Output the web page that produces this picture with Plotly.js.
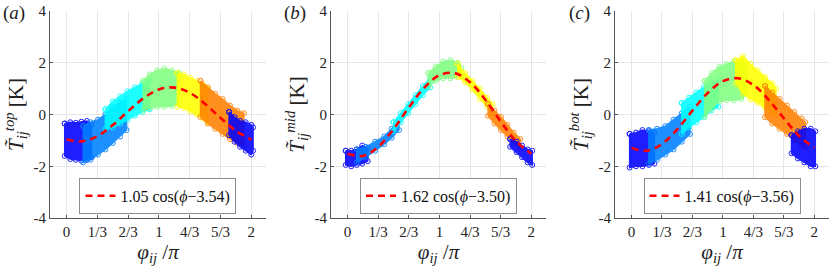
<!DOCTYPE html>
<html>
<head>
<meta charset="utf-8">
<script src="https://cdn.plot.ly/plotly-3.0.1.min.js"></script>
<style>html,body{margin:0;padding:0;background:#fff;}#chart{width:830px;height:269px;}</style>
</head>
<body>
<div id="chart"></div>
<script>
// ---- data ----
const tickVals = [0, 1/3, 2/3, 1, 4/3, 5/3, 2];
const tickText = ['0', '1/3', '2/3', '1', '4/3', '5/3', '2'];
const yTickVals = [4, 2, 0, -2, -4];
const yTickText = ['4', '2', '0', '-2', '-4'];

// fitted dashed curves sampled along phi/pi
const fitX = [0, 1/6, 2/6, 3/6, 4/6, 5/6, 1, 7/6, 8/6, 9/6, 10/6, 11/6, 2];
const fitTop = [-0.97, -1.04, -0.84, -0.41, 0.13, 0.63, 0.97, 1.04, 0.84, 0.41, -0.13, -0.63, -0.97];
const fitMid = [-1.52, -1.60, -1.25, -0.57, 0.27, 1.03, 1.52, 1.60, 1.25, 0.57, -0.27, -1.03, -1.52];
const fitBot = [-1.29, -1.40, -1.14, -0.57, 0.15, 0.83, 1.29, 1.40, 1.14, 0.57, -0.15, -0.83, -1.29];
const fitLabels = ['1.05 cos(<i>ϕ</i>−3.54)', '1.62 cos(<i>ϕ</i>−3.50)', '1.41 cos(<i>ϕ</i>−3.56)'];

// point-cloud envelopes per colour group (x, upper edge, lower edge)
const topSegX = [
  [-0.02, 0.04, 0.1, 0.16, 0.22, 0.27],
  [0.18, 0.26, 0.34, 0.42, 0.5, 0.58, 0.65],
  [0.42, 0.5, 0.58, 0.66, 0.74, 0.82, 0.9],
  [0.83, 0.9, 0.98, 1.06, 1.14, 1.22],
  [1.2, 1.27, 1.34, 1.41, 1.48, 1.53],
  [1.45, 1.53, 1.61, 1.69, 1.77, 1.85, 1.92],
  [1.76, 1.82, 1.88, 1.94, 2.0, 2.02]
];
const topSegUp = [
  [-0.35, -0.3, -0.32, -0.28, -0.25, -0.4],
  [-0.45, -0.3, -0.2, 0.0, 0.3, 0.45, 0.6],
  [0.2, 0.5, 0.7, 0.9, 1.05, 1.2, 1.3],
  [1.3, 1.55, 1.7, 1.78, 1.7, 1.6],
  [1.6, 1.55, 1.42, 1.3, 1.15, 1.0],
  [1.3, 1.05, 0.8, 0.6, 0.35, 0.15, 0.05],
  [0.1, -0.1, -0.25, -0.3, -0.4, -0.5]
];
const topSegLo = [
  [-1.6, -1.72, -1.75, -1.78, -1.75, -1.65],
  [-1.85, -1.75, -1.55, -1.35, -1.1, -0.85, -0.6],
  [-0.55, -0.5, -0.35, -0.2, -0.05, 0.1, 0.2],
  [0.15, 0.25, 0.3, 0.3, 0.33, 0.4],
  [0.3, 0.25, 0.12, 0.0, -0.15, -0.3],
  [-0.1, -0.35, -0.55, -0.75, -0.95, -1.1, -1.2],
  [-0.8, -1.05, -1.25, -1.4, -1.55, -1.4]
];

const midSegX = [
  [-0.02, 0.04, 0.1, 0.16, 0.22],
  [0.1, 0.2, 0.3, 0.4, 0.48, 0.56],
  [0.5, 0.58, 0.66, 0.74, 0.82, 0.9],
  [0.88, 0.96, 1.04, 1.12, 1.2, 1.24],
  [1.2, 1.28, 1.36, 1.44, 1.52, 1.58],
  [1.53, 1.6, 1.67, 1.74, 1.81, 1.88],
  [1.77, 1.84, 1.9, 1.96, 2.01]
];
const midSegUp = [
  [-1.4, -1.4, -1.35, -1.2, -1.3],
  [-1.35, -1.25, -1.05, -0.85, -0.55, -0.25],
  [-0.3, 0.05, 0.4, 0.75, 1.1, 1.4],
  [1.6, 1.85, 2.05, 2.1, 2.0, 1.8],
  [1.95, 1.6, 1.3, 1.0, 0.65, 0.4],
  [0.4, 0.15, -0.1, -0.4, -0.7, -0.95],
  [-0.95, -1.05, -1.2, -1.35, -1.4]
];
const midSegLo = [
  [-1.95, -2.0, -1.95, -1.9, -1.8],
  [-1.85, -1.65, -1.4, -1.15, -0.9, -0.6],
  [-0.65, -0.3, 0.05, 0.4, 0.75, 1.05],
  [1.1, 1.3, 1.4, 1.4, 1.45, 1.5],
  [1.45, 1.25, 0.95, 0.6, 0.3, 0.05],
  [-0.05, -0.35, -0.6, -0.85, -1.1, -1.3],
  [-1.25, -1.45, -1.65, -1.85, -1.95]
];

const botSegX = [
  [-0.02, 0.05, 0.12, 0.19, 0.25],
  [0.19, 0.28, 0.37, 0.46, 0.55, 0.64],
  [0.55, 0.63, 0.71, 0.79, 0.87, 0.95],
  [0.8, 0.88, 0.96, 1.04, 1.12, 1.2, 1.26],
  [1.14, 1.22, 1.3, 1.38, 1.46, 1.54, 1.58],
  [1.46, 1.54, 1.62, 1.7, 1.78, 1.86, 1.9],
  [1.75, 1.82, 1.89, 1.96, 2.01]
];
const botSegUp = [
  [-0.75, -0.7, -0.6, -0.65, -0.7],
  [-0.6, -0.55, -0.45, -0.2, 0.05, 0.3],
  [0.45, 0.65, 0.85, 1.05, 1.25, 1.35],
  [1.3, 1.6, 1.85, 1.95, 2.05, 2.05, 1.95],
  [2.1, 2.25, 1.95, 1.7, 1.45, 1.2, 1.0],
  [1.1, 0.85, 0.6, 0.35, 0.1, -0.15, -0.3],
  [-0.8, -0.65, -0.55, -0.55, -0.65]
];
const botSegLo = [
  [-2.05, -2.0, -2.0, -1.95, -1.9],
  [-1.9, -1.75, -1.55, -1.35, -1.05, -0.75],
  [-0.75, -0.5, -0.3, -0.1, 0.15, 0.3],
  [-0.1, 0.25, 0.5, 0.55, 0.55, 0.6, 0.8],
  [1.2, 0.8, 0.6, 0.45, 0.25, 0.05, -0.05],
  [-0.1, -0.35, -0.55, -0.75, -1.0, -1.2, -1.3],
  [-1.5, -1.7, -1.85, -2.0, -2.0]
];

const yTitles = ['top', 'mid', 'bot'];
const panelLabels = ['a', 'b', 'c'];

// ---- styles ----
const segColors = ['#0000ff', '#0080ff', '#00ffff', '#80ff80', '#ffff00', '#ff8000', '#0000ff'];
const serif = '"Liberation Serif", "Times New Roman", Times, serif';
const domainsX = [[0.0602, 0.3205], [0.3988, 0.6578], [0.741, 0.9988]];
const domainY = [0.1896, 0.9591];

const panels = [
  {sx: topSegX, su: topSegUp, sl: topSegLo, fit: fitTop},
  {sx: midSegX, su: midSegUp, sl: midSegLo, fit: fitMid},
  {sx: botSegX, su: botSegUp, sl: botSegLo, fit: fitBot}
];

const traces = [];
const layout = {
  width: 830, height: 269,
  margin: {l: 0, r: 0, t: 0, b: 0},
  paper_bgcolor: '#fff', plot_bgcolor: '#fff',
  font: {family: serif, size: 14, color: '#222'},
  showlegend: true,
  annotations: []
};

panels.forEach((p, i) => {
  const sfx = i === 0 ? '' : String(i + 1);
  const xa = 'x' + sfx, ya = 'y' + sfx;
  p.sx.forEach((xs, k) => {
    const up = p.su[k], lo = p.sl[k];
    const px = xs.concat(xs.slice().reverse(), [xs[0]]);
    const py = up.concat(lo.slice().reverse(), [up[0]]);
    traces.push({
      x: px, y: py, xaxis: xa, yaxis: ya, type: 'scatter',
      mode: 'lines+markers', fill: 'toself',
      fillcolor: segColors[k], line: {color: segColors[k], width: 1.5},
      marker: {symbol: 'circle-open', size: 5, color: segColors[k], line: {width: 1}},
      opacity: 0.88, showlegend: false, hoverinfo: 'skip'
    });
  });
  const lg = i === 0 ? 'legend' : 'legend' + (i + 1);
  traces.push({
    x: fitX, y: p.fit, xaxis: xa, yaxis: ya, type: 'scatter', mode: 'lines',
    line: {color: '#ff0000', width: 2.6, dash: '7px,5px', shape: 'spline'},
    name: fitLabels[i], legend: lg, showlegend: true
  });
  layout[lg] = {
    x: (domainsX[i][0] + domainsX[i][1]) / 2, xanchor: 'center',
    y: 0.205, yanchor: 'bottom', xref: 'paper', yref: 'paper',
    bgcolor: '#fff', bordercolor: '#8c8c8c', borderwidth: 1,
    font: {family: serif, size: 16, color: '#111'},
    itemwidth: 30, tracegroupgap: 0
  };
  layout['xaxis' + sfx] = {
    domain: domainsX[i], anchor: ya, range: [-0.18, 2.16],
    tickvals: tickVals, ticktext: tickText, ticks: 'inside', ticklen: 3,
    tickcolor: '#555', showline: true, linecolor: '#555', linewidth: 1,
    showgrid: true, gridcolor: '#e6e6e6', gridwidth: 1, zeroline: false,
    tickfont: {family: serif, size: 15, color: '#222'},
    title: {text: '<i>φ<sub>ij</sub></i> /<i>π</i>', font: {family: serif, size: 21, color: '#222'}, standoff: 2},
    automargin: false
  };
  layout['yaxis' + sfx] = {
    domain: domainY, anchor: xa, range: [-4, 4],
    tickvals: yTickVals, ticktext: yTickText, ticks: 'inside', ticklen: 3,
    tickcolor: '#555', showline: true, linecolor: '#555', linewidth: 1,
    showgrid: true, gridcolor: '#e6e6e6', gridwidth: 1, zeroline: false,
    tickfont: {family: serif, size: 15, color: '#222'},
    title: {text: '<i>T̃</i><sub><i>ij</i></sub><sup><i>' + yTitles[i] + '</i></sup> [K]', font: {family: serif, size: 21, color: '#222'}, standoff: 4},
    automargin: false
  };
  layout.annotations.push({
    xref: 'paper', yref: 'paper', x: domainsX[i][0] - 0.028, y: 1.0,
    xanchor: 'right', yanchor: 'top', showarrow: false,
    text: '(<i>' + panelLabels[i] + '</i>)', font: {family: serif, size: 19, color: '#222'}
  });
});

Plotly.newPlot('chart', traces, layout, {displayModeBar: false, staticPlot: true});
</script>
</body>
</html>
